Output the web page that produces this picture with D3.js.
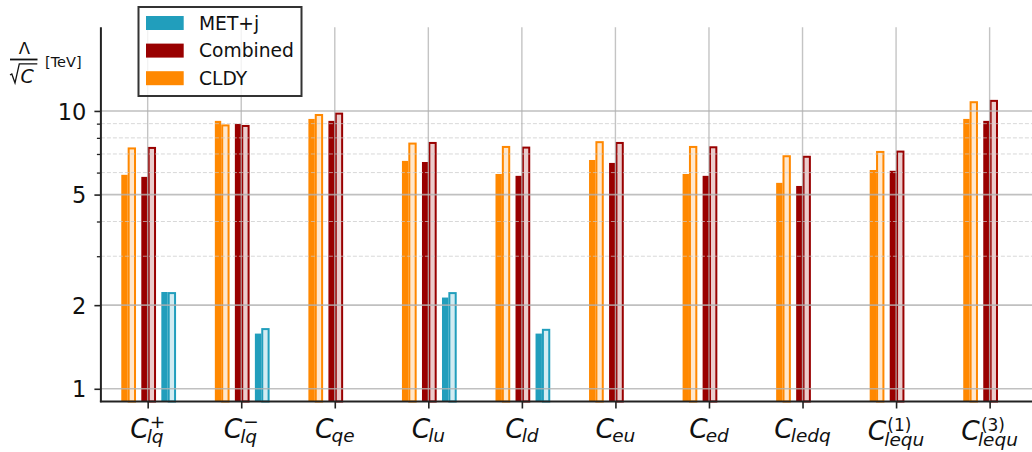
<!DOCTYPE html>
<html>
<head>
<meta charset="utf-8">
<script src="https://cdn.jsdelivr.net/npm/d3@7"></script>
<style>
  html, body { margin: 0; padding: 0; background: #fff; }
  svg { display: block; font-family: "DejaVu Sans", sans-serif; }
</style>
</head>
<body>
<svg id="chart" width="1032" height="452"></svg>
<script>
// ---------------- data ----------------
const labelSubs = ["lq", "lq", "qe", "lu", "ld", "eu", "ed", "ledq", "lequ", "lequ"];
const labelSups = ["+", "\u2212", "", "", "", "", "", "", "(1)", "(3)"];

// filled bars (left of each pair) and outlined bars (right of each pair)
const cldyFilled     = [5.89, 9.21, 9.36, 6.61, 5.93, 6.66, 5.93, 5.51, 6.13, 9.36];
const cldyOutlined   = [7.33, 8.87, 9.67, 7.63, 7.42, 7.72, 7.42, 6.87, 7.12, 10.75];
const combFilled     = [5.79, 8.98, 9.21, 6.55, 5.84, 6.50, 5.84, 5.37, 6.09, 9.21];
const combOutlined   = [7.36, 8.83, 9.78, 7.67, 7.38, 7.67, 7.40, 6.84, 7.14, 10.87];
const metjFilled     = [2.23, 1.58, null, 2.13, 1.58, null, null, null, null, null];
const metjOutlined   = [2.21, 1.64, null, 2.21, 1.63, null, null, null, null, null];

const yMajorTicks = [1, 2, 5, 10];
const yMinorTicks = [3, 4, 6, 7, 8, 9];
const legendLabels = ["MET+j", "Combined", "CLDY"];

// ---------------- styles ----------------
const colOrange = "#ff8800";
const colRed = "#990000";
const colBlue = "#219ebc";

const svg = d3.select("#chart");
svg.append("rect").attr("width", 1032).attr("height", 452).attr("fill", "#fff");

const pLeft = 100.9, pRight = 1036.4, pTop = 27.3, pBottom = 401.5;
const x = d3.scaleLinear().domain([-0.5, 9.5]).range([pLeft, pRight]);
const y = d3.scaleLog().domain([0.9, 20]).range([pBottom, pTop]);

const barW = x(0.068) - x(0);
const series = [
  { filled: cldyFilled, outlined: cldyOutlined, color: colOrange, off: -0.214 },
  { filled: combFilled, outlined: combOutlined, color: colRed, off: 0 },
  { filled: metjFilled, outlined: metjOutlined, color: colBlue, off: 0.214 }
];

const idx = d3.range(labelSubs.length);
const barsG = svg.append("g");
series.forEach(s => {
  const filledData = idx.filter(i => s.filled[i] != null);
  barsG.selectAll(null).data(filledData).enter().append("rect")
    .attr("x", i => x(i + s.off) - barW)
    .attr("width", barW)
    .attr("y", i => y(s.filled[i]))
    .attr("height", i => y(0.9) - y(s.filled[i]))
    .attr("fill", s.color);
  const outData = idx.filter(i => s.outlined[i] != null);
  barsG.selectAll(null).data(outData).enter().append("rect")
    .attr("x", i => x(i + s.off) + 1)
    .attr("width", barW)
    .attr("y", i => y(s.outlined[i]))
    .attr("height", i => y(0.9) - y(s.outlined[i]))
    .attr("fill", s.color).attr("fill-opacity", 0.2)
    .attr("stroke", s.color).attr("stroke-width", 2);
});

// ---------------- grid (above bars, like matplotlib default) ----------------
const gridG = svg.append("g");
gridG.selectAll(null).data(yMinorTicks).enter().append("line")
  .attr("x1", pLeft).attr("x2", 1032)
  .attr("y1", d => y(d)).attr("y2", d => y(d))
  .attr("stroke", "#c8c8c8").attr("stroke-width", 1)
  .attr("stroke-dasharray", "4,2").attr("stroke-opacity", 0.7);
gridG.selectAll(null).data(yMajorTicks).enter().append("line")
  .attr("x1", pLeft).attr("x2", 1032)
  .attr("y1", d => y(d)).attr("y2", d => y(d))
  .attr("stroke", "#b0b0b0").attr("stroke-width", 1.6).attr("stroke-opacity", 0.8);
gridG.selectAll(null).data(idx).enter().append("line")
  .attr("x1", i => x(i)).attr("x2", i => x(i))
  .attr("y1", pTop).attr("y2", pBottom)
  .attr("stroke", "#b0b0b0").attr("stroke-width", 1.4).attr("stroke-opacity", 0.75);

// ---------------- axes ----------------
const yAxis = d3.axisLeft(y).tickValues(yMajorTicks).tickFormat(d3.format("d"))
  .tickSize(6.5).tickPadding(8);
const yAxisG = svg.append("g").attr("transform", `translate(${pLeft},0)`).call(yAxis);
yAxisG.select(".domain").remove();
yAxisG.selectAll(".tick line").attr("stroke", "#222").attr("stroke-width", 1.6);
yAxisG.selectAll(".tick text").attr("font-size", "22.5px").attr("fill", "#111")
  .attr("font-family", "DejaVu Sans").attr("dy", "0.36em");

const yMinorAxis = d3.axisLeft(y).tickValues(yMinorTicks).tickFormat("").tickSize(4);
const yMinorG = svg.append("g").attr("transform", `translate(${pLeft},0)`).call(yMinorAxis);
yMinorG.select(".domain").remove();
yMinorG.selectAll(".tick line").attr("stroke", "#222").attr("stroke-width", 1.3);

const xAxis = d3.axisBottom(x).tickValues(idx).tickFormat("").tickSize(7);
const xAxisG = svg.append("g").attr("transform", `translate(0,${pBottom})`).call(xAxis);
xAxisG.select(".domain").remove();
xAxisG.selectAll(".tick line").attr("stroke", "#222").attr("stroke-width", 1.6);

// spines
svg.append("line").attr("x1", pLeft).attr("x2", pLeft).attr("y1", pTop).attr("y2", pBottom + 0.8)
  .attr("stroke", "#222").attr("stroke-width", 2);
svg.append("line").attr("x1", pLeft - 1).attr("x2", 1032).attr("y1", pBottom).attr("y2", pBottom)
  .attr("stroke", "#222").attr("stroke-width", 2);

// ---------------- x tick labels (math-style) ----------------
const labG = svg.append("g");
idx.forEach(i => {
  const g = labG.append("g");
  const hasParen = labelSups[i].indexOf("(") >= 0;
  const base = hasParen ? 440 : 438.3;
  const c = g.append("text").attr("x", 0).attr("y", base)
    .attr("font-size", "26.5px").attr("font-style", "italic").attr("fill", "#111")
    .text("C");
  const wC = c.node().getComputedTextLength();
  const hasSup = labelSups[i] !== "";
  const subShift = hasParen ? 6 : (hasSup ? 4.2 : 4);
  const sub = g.append("text").attr("x", wC - 2).attr("y", base + subShift)
    .attr("font-size", "18.5px").attr("font-style", "italic").attr("fill", "#111")
    .text(labelSubs[i]);
  let wEnd = wC - 2 + sub.node().getComputedTextLength();
  if (hasSup) {
    const sup = g.append("text").attr("x", wC + 1).attr("y", base - (hasParen ? 9.5 : 10.8))
      .attr("font-size", hasParen ? "17px" : "18.5px").attr("fill", "#111")
      .text(labelSups[i]);
    wEnd = Math.max(wEnd, wC + 1 + sup.node().getComputedTextLength());
  }
  g.attr("transform", `translate(${x(i) - wEnd / 2},0)`);
});

// ---------------- y label ----------------
const yl = svg.append("g").attr("fill", "#111");
yl.append("text").attr("x", 24.5).attr("y", 54).attr("text-anchor", "middle")
  .attr("font-size", "16.5px").text("\u039B");
yl.append("line").attr("x1", 10).attr("x2", 37.5).attr("y1", 59.5).attr("y2", 59.5)
  .attr("stroke", "#111").attr("stroke-width", 1.8);
yl.append("path").attr("d", "M10,75 L11.8,74 L15,83 L19.3,63.8 L37.3,63.8")
  .attr("fill", "none").attr("stroke", "#111").attr("stroke-width", 1.3);
yl.append("text").attr("x", 20.5).attr("y", 82.5).attr("font-size", "19px")
  .attr("font-style", "italic").text("C");
yl.append("text").attr("x", 45).attr("y", 66.5).attr("font-size", "14.5px").text("[TeV]");

// ---------------- legend ----------------
const lg = svg.append("g");
lg.append("rect").attr("x", 138.5).attr("y", 7).attr("width", 163).attr("height", 89)
  .attr("fill", "#fff").attr("fill-opacity", 0.8)
  .attr("stroke", "#333").attr("stroke-width", 2);
const legendColors = [colBlue, colRed, colOrange];
legendLabels.forEach((lab, k) => {
  const yy = 16 + k * 27.6;
  lg.append("rect").attr("x", 146).attr("y", yy).attr("width", 37.7).attr("height", 14)
    .attr("fill", legendColors[k]);
  lg.append("text").attr("x", 199).attr("y", yy + 13.5).attr("font-size", "18.7px")
    .attr("fill", "#111").text(lab);
});
</script>
</body>
</html>
